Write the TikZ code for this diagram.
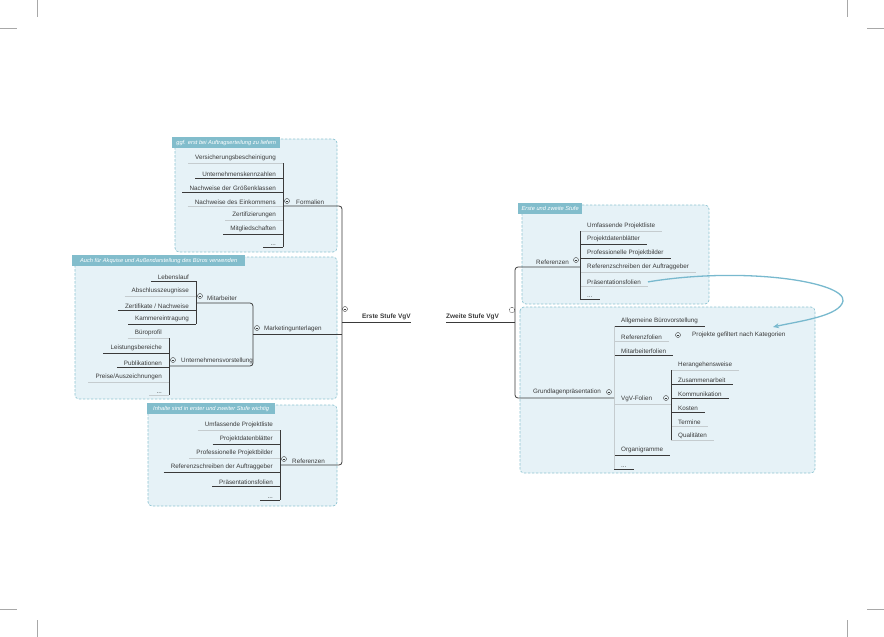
\documentclass[tikz,border=0pt]{standalone}
\usepackage{fontspec}
\setmainfont{Liberation Sans}
\usetikzlibrary{arrows.meta,positioning}

\definecolor{boxfill}{HTML}{E6F2F7}
\definecolor{boxline}{HTML}{8EC4D2}
\definecolor{tabfill}{HTML}{82BDCC}
\definecolor{ink}{HTML}{3A3A3A}
\definecolor{pale}{HTML}{C5CCCF}
\definecolor{flow}{HTML}{78B9CE}
\definecolor{crop}{HTML}{A8A8A8}

\tikzset{
  item/.style={inner xsep=7pt, inner ysep=1.6pt, font=\fontsize{6.3}{7}\selectfont, text=ink},
  topic/.style={inner xsep=2pt, inner ysep=1.6pt, font=\fontsize{6.3}{7}\selectfont, text=ink},
  ul/.style={append after command={(\tikzlastnode.south west) edge[draw=#1, line width=0.8pt] (\tikzlastnode.south east)}},
  dk/.style={item, ul=ink},
  lt/.style={item, ul=pale},
  dark/.style={draw=ink, line width=0.8pt},
  trunk/.style={draw=ink, line width=0.8pt, rounded corners=3pt},
  bracket/.style={draw=ink, line width=0.7pt},
  paleb/.style={draw=pale, line width=0.7pt},
  group/.style={draw=boxline, fill=boxfill, dash pattern=on 2.5pt off 1.5pt, rounded corners=4pt, line width=0.7pt},
  tab/.style={fill=tabfill, anchor=north west, inner sep=0pt, minimum height=11pt, font=\fontsize{5.7}{6}\itshape, text=white},
  knob/.style={circle, draw=ink, line width=0.4pt, inner sep=0pt, minimum size=5pt, path picture={\draw[ink, line width=0.4pt] ([xshift=-1.4pt]path picture bounding box.center) -- ([xshift=1.4pt]path picture bounding box.center);}},
  dknob/.style={circle, draw=ink, line width=0.4pt, inner sep=0pt, minimum size=5.5pt, dash pattern=on 0.9pt off 0.6pt},
  stage/.style={inner xsep=0pt, inner ysep=1.6pt, font=\fontsize{6.5}{7}\bfseries, text=ink},
  flowline/.style={draw=flow, line width=1.3pt, -{Stealth[length=6pt,width=5pt]}},
  cropmark/.style={draw=crop, line width=0.5pt},
}

\begin{document}
\begin{tikzpicture}[x=1pt,y=-1pt]
\useasboundingbox (0,0) rectangle (884,637);
\draw[cropmark] (37,0) -- (37,17);
\draw[cropmark] (0,28) -- (17,28);
\draw[cropmark] (847,0) -- (847,17);
\draw[cropmark] (867,28) -- (884,28);
\draw[cropmark] (37,620) -- (37,637);
\draw[cropmark] (0,609) -- (17,609);
\draw[cropmark] (847,620) -- (847,637);
\draw[cropmark] (867,609) -- (884,609);

\draw[group] (175,139) rectangle (337,252);
\draw[group] (75,257) rectangle (337,399);
\draw[group] (148,405) rectangle (337,506);
\draw[group] (522,205) rectangle (709,304);
\draw[group] (520,307) rectangle (815,473);

\node[tab, minimum width=108pt] (tabf) at (172,137) {ggf. erst bei Auftragserteilung zu liefern};
\node[tab, minimum width=173pt] (tabm) at (72,255) {Auch für Akquise und Außendarstellung des Büros verwenden};
\node[tab, minimum width=128pt] (tabr) at (147,403) {Inhalte sind in erster und zweiter Stufe wichtig};
\node[tab, minimum width=64pt] (tabq) at (518,203) {Erste und zweite Stufe};

\node[lt, anchor=south east] (fa) at (283,163) {Versicherungsbescheinigung};
\node[dk, anchor=south east] (fb) at (283,178) {Unternehmenskennzahlen};
\node[dk, anchor=south east] (fc) at (283,192) {Nachweise der Größenklassen};
\node[lt, anchor=south east] (fd) at (283,206) {Nachweise des Einkommens};
\node[lt, anchor=south east] (fe) at (283,220) {Zertifizierungen};
\node[dk, anchor=south east] (ff) at (283,234) {Mitgliedschaften};
\node[dk, anchor=south east] (fg) at (283,247) {...};
\draw[bracket] (fa.south east) -- (fg.south east);
\node[knob] (kf) at (287,201) {};
\node[topic, anchor=south west] (formalien) at (294,206) {Formalien};

\node[dk, anchor=south east] (ma) at (196,281) {Lebenslauf};
\node[lt, anchor=south east] (mb) at (196,296) {Abschlusszeugnisse};
\node[dk, anchor=south east] (mc) at (196,310) {Zertifikate / Nachweise};
\node[dk, anchor=south east] (md) at (196,324) {Kammereintragung};
\draw[bracket] (ma.south east) -- (md.south east);
\node[knob] (km) at (200,296) {};
\node[topic, anchor=south west] (mitarbeiter) at (205,302) {Mitarbeiter};

\node[lt, anchor=south east] (ua) at (169,338) {Büroprofil};
\node[dk, anchor=south east] (ub) at (169,353) {Leistungsbereiche};
\node[dk, anchor=south east] (uc) at (169,367) {Publikationen};
\node[lt, anchor=south east] (ud) at (169,382) {Preise/Auszeichnungen};
\node[lt, anchor=south east] (ue) at (169,395) {...};
\draw[bracket] (ua.south east) -- (ue.south east);
\node[knob] (ku) at (173,360) {};
\node[topic, anchor=south west] (vorstellung) at (179,366) {Unternehmensvorstellung};

\coordinate (jm) at (196,303);
\coordinate (ju) at (169,366);
\coordinate (jk1) at (253,303);
\coordinate (jk2) at (253,366);
\coordinate (jk) at (253,334);
\draw[trunk] (jm) -- (jk1) -- (jk2) -- (ju);
\node[knob] (kk) at (257,328) {};
\node[topic, anchor=south west] (marketing) at (262,334) {Marketingunterlagen};

\node[lt, anchor=south east] (ra) at (280,430) {Umfassende Projektliste};
\node[dk, anchor=south east] (rb) at (280,444) {Projektdatenblätter};
\node[lt, anchor=south east] (rc) at (280,458) {Professionelle Projektbilder};
\node[dk, anchor=south east] (rd) at (280,472) {Referenzschreiben der Auftraggeber};
\node[dk, anchor=south east] (re) at (280,486) {Präsentationsfolien};
\node[dk, anchor=south east] (rf) at (280,500) {...};
\draw[bracket] (ra.south east) -- (rf.south east);
\node[knob] (kr) at (284,459) {};
\node[topic, anchor=south west] (referenzen) at (290,465) {Referenzen};

\coordinate (jf) at (283,206);
\coordinate (jr) at (280,465);
\coordinate (tf) at (342,206);
\coordinate (tm) at (342,334);
\coordinate (te) at (342,322);
\coordinate (tr) at (342,465);
\draw[trunk] (jf) -- (tf) -- (tr) -- (jr);
\draw[dark] (jk) -- (tm);

\node[knob] (ke) at (345,309) {};
\node[stage, anchor=south east] (erste) at (411,322) {Erste Stufe VgV};
\draw[dark] (te) -- (erste.south east);

\node[stage, anchor=south west] (zweite) at (446,322) {Zweite Stufe VgV};
\node[dknob] (kz) at (512,310) {};

\node[lt, anchor=south west] (qa) at (580,231) {Umfassende Projektliste};
\node[dk, anchor=south west] (qb) at (580,244) {Projektdatenblätter};
\node[dk, anchor=south west] (qc) at (580,258) {Professionelle Projektbilder};
\node[lt, anchor=south west] (qd) at (580,272) {Referenzschreiben der Auftraggeber};
\node[lt, anchor=south west] (qe) at (580,286) {Präsentationsfolien};
\node[dk, anchor=south west] (qf) at (580,299) {...};
\draw[bracket] (qa.south west) -- (qf.south west);
\node[knob] (kq) at (576,260) {};
\node[topic, anchor=south east] (refzwei) at (571,266) {Referenzen};

\node[dk, anchor=south west] (ga) at (614,326) {Allgemeine Bürovorstellung};
\node[lt, anchor=south west] (gb) at (614,341) {Referenzfolien};
\node[dk, anchor=south west] (gc) at (614,355) {Mitarbeiterfolien};
\node[lt, anchor=south west] (gd) at (614,404) {VgV-Folien};
\node[dk, anchor=south west] (ge) at (614,455) {Organigramme};
\node[dk, anchor=south west] (gf) at (614,469) {...};
\draw[paleb] (ga.south west) -- (gf.south west);
\node[knob] (kg) at (609,392) {};
\node[topic, anchor=south east] (grundlagen) at (603,397) {Grundlagenpräsentation};

\node[knob] (kb) at (678,335) {};
\node[topic, anchor=south west] (gefiltert) at (690,340) {Projekte gefiltert nach Kategorien};

\node[lt, anchor=south west] (va) at (671,370) {Herangehensweise};
\node[dk, anchor=south west] (vb) at (671,384) {Zusammenarbeit};
\node[dk, anchor=south west] (vc) at (671,398) {Kommunikation};
\node[dk, anchor=south west] (vd) at (671,412) {Kosten};
\node[lt, anchor=south west] (ve) at (671,426) {Termine};
\node[lt, anchor=south west] (vf) at (671,440) {Qualitäten};
\draw[bracket] (va.south west) -- (vf.south west);
\node[knob] (kv) at (666,398) {};
\coordinate (jv) at (671,404);
\draw[paleb] (gd.south east) -- (jv);

\coordinate (sq) at (515,267);
\coordinate (sz) at (515,322);
\coordinate (sg) at (515,398);
\coordinate (jq) at (580,267);
\coordinate (jg) at (614,398);
\draw[trunk] (jq) -- (sq) -- (sg) -- (jg);
\draw[dark] (zweite.south west) -- (sz);

\coordinate (tip) at (773,327);
\draw[flowline] (qe.east) .. controls (745,266) and (846,282) .. (843,301) .. controls (840,316) and (800,321) .. (tip);
\end{tikzpicture}
\end{document}
